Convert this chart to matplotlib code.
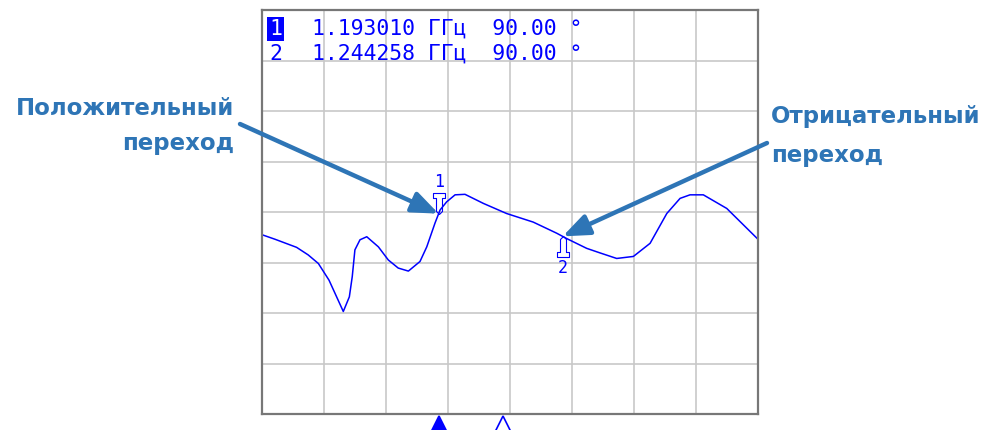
import numpy as np
import matplotlib.pyplot as plt
from matplotlib.path import Path

# trace: frequency (GHz) vs level in grid divisions
freq = [1.1200, 1.1254, 1.1343, 1.1391, 1.1433, 1.1477, 1.1536, 1.1561, 1.1573, 1.1584,
        1.1605, 1.1633, 1.1681, 1.1722, 1.1763, 1.1805, 1.1853, 1.1881, 1.1915, 1.1936,
        1.1963, 1.1998, 1.2039, 1.2115, 1.2211, 1.2321, 1.2418, 1.2461, 1.2542, 1.2597,
        1.2666, 1.2735, 1.2804, 1.2873, 1.2928, 1.2969, 1.3024, 1.3121, 1.3176, 1.3250]
level = [3.55, 3.46, 3.30, 3.15, 2.98, 2.65, 2.03, 2.32, 2.72, 3.25,
         3.45, 3.51, 3.31, 3.05, 2.89, 2.83, 3.02, 3.31, 3.78, 4.04,
         4.20, 4.34, 4.35, 4.17, 3.97, 3.80, 3.58, 3.47, 3.28, 3.19,
         3.08, 3.12, 3.38, 3.97, 4.27, 4.34, 4.34, 4.07, 3.81, 3.46]

F_START, F_STOP = 1.12, 1.325

marker_ids = ['1', '2']
marker_freq = [1.193010, 1.244258]
marker_value = ['90.00', '90.00']

# stimulus triangles under the grid
stim_freq = [1.193010, 1.2196]
stim_filled = [True, False]

labels = ['Положительный\nпереход', 'Отрицательный\nпереход']

BLUE = '#0000ff'
NOTE = '#2e75b6'
W, H = 991, 430


def px(x, y):
    # figure pixel (from top-left) -> figure fraction
    return x / W, 1 - y / H


# marker outline, tip at origin, 1 unit = 1 px
verts = [(0, 0), (-3, 3), (-3, 16), (-6, 16), (-6, 21), (6, 21), (6, 16), (3, 16), (3, 3), (0, 0)]
down_marker = Path(verts, closed=True)
up_marker = Path([(x, -y) for x, y in verts], closed=True)
MS = 0.72 * 42

fig = plt.figure(figsize=(W / 100, H / 100), dpi=100)
ax = fig.add_axes([262 / W, 16 / H, 496 / W, 404 / H])
ax.set_xlim(F_START, F_STOP)
ax.set_ylim(0, 8)
ax.set_xticks(np.linspace(F_START, F_STOP, 9))
ax.set_yticks(range(9))
ax.tick_params(length=0, labelbottom=False, labelleft=False)
ax.grid(True, color='#c8c8c8', lw=1.2)
for s in ax.spines.values():
    s.set_color('#777777')
    s.set_linewidth(1.6)

ax.plot(freq, level, color=BLUE, lw=1.1)

marker_level = np.interp(marker_freq, freq, level)
for i, (mid, f, y) in enumerate(zip(marker_ids, marker_freq, marker_level)):
    shape = down_marker if i == 0 else up_marker
    ax.plot([f], [y], marker=shape, ms=MS, mfc='none', mec=BLUE, mew=0.8, ls='none')
    off = 32 if i == 0 else -32
    ax.annotate(mid, xy=(f, y), xytext=(0, off), textcoords='offset pixels',
                ha='center', va='center', color=BLUE, fontsize=12,
                family='DejaVu Sans Mono')

for f, filled in zip(stim_freq, stim_filled):
    ax.plot([f], [-15 / 404], marker='^', ms=18.7, ls='none',
            mfc=BLUE if filled else 'white', mec=BLUE, mew=1.2,
            transform=ax.get_xaxis_transform(), clip_on=False)

# marker readout in the top left corner
for i, (mid, f, v) in enumerate(zip(marker_ids, marker_freq, marker_value)):
    base = 35 + 25 * i
    box = dict(boxstyle='square,pad=0.08', fc=BLUE, ec='none') if i == 0 else None
    fig.text(*px(269, base), mid, ha='left', va='baseline', fontsize=15.4,
             family='DejaVu Sans Mono', color='white' if i == 0 else BLUE, bbox=box)
    fig.text(*px(312, base), f'{f:.6f} ГГц  {v} °', ha='left', va='baseline',
             fontsize=15.4, family='DejaVu Sans Mono', color=BLUE)

# callouts
arrow = dict(arrowstyle='-|>,head_length=0.8,head_width=0.32', color=NOTE, lw=3.2,
             mutation_scale=20, shrinkA=0, shrinkB=0)
ax.annotate('', xy=(marker_freq[0], marker_level[0]), xytext=(240, H - 124),
            textcoords='figure pixels', arrowprops=arrow, annotation_clip=False)
ax.annotate('', xy=(marker_freq[1], marker_level[1]), xytext=(767, H - 143),
            textcoords='figure pixels', arrowprops=arrow, annotation_clip=False)

# baseline of the last line sets the position
fig.text(*px(234, 150), labels[0], ha='right', va='baseline', multialignment='right',
         fontsize=16.5, fontweight='bold', color=NOTE, linespacing=1.67)
fig.text(*px(771, 162), labels[1], ha='left', va='baseline', multialignment='left',
         fontsize=16.5, fontweight='bold', color=NOTE, linespacing=1.87)

fig.savefig('out.png', dpi=100)
